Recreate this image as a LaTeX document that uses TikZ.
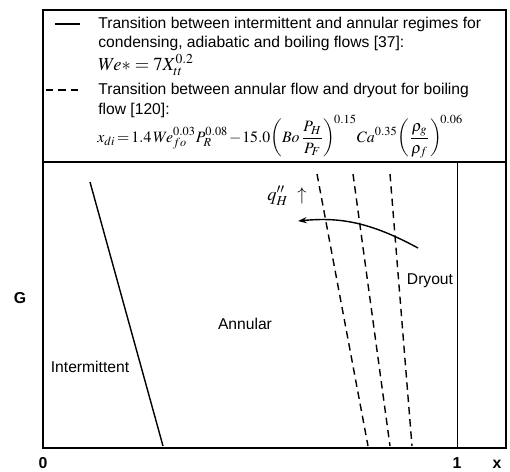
\documentclass[tikz,border=0pt]{standalone}
\usepackage{mathptmx}
\usepackage[no-math]{fontspec}
\setmainfont{Liberation Sans}
\usetikzlibrary{arrows.meta}
\begin{document}
\begin{tikzpicture}[x=0.02cm,y=-0.02cm,
    lbl/.style={font=\fontsize{8.9}{10}\selectfont, inner sep=0pt},
    axlbl/.style={font=\fontsize{9}{10}\selectfont\bfseries, inner sep=0pt},
    frame/.style={line width=1.1pt},
    regime/.style={line width=0.8pt},
    dryline/.style={line width=0.8pt, dash pattern=on 4.2pt off 2.8pt}]
    \useasboundingbox (0,0) rectangle (510,471);
    % frame and legend box
    \draw[frame] (43,10) rectangle (506,448);
    \draw[frame] (43,162) -- (506,162);
    \draw[regime] (55,24) -- (80,24);
    \draw[dryline] (46,90) -- (80,90);
    \node[lbl, anchor=west] (leg1a) at (98,24) {Transition between intermittent and annular regimes for};
    \node[lbl, anchor=west] (leg1b) at (98,43) {condensing, adiabatic and boiling flows [37]:};
    \node[anchor=west, inner sep=0pt, font=\fontsize{10.5}{12}\selectfont] (eq1) at (98,65) {$We{*} = 7X_{tt}^{0.2}$};
    \node[lbl, anchor=west] (leg2a) at (98,90) {Transition between annular flow and dryout for boiling};
    \node[lbl, anchor=west] (leg2b) at (98,110) {flow [120]:};
    \node[anchor=west, inner sep=0pt, font=\fontsize{9}{11}\selectfont] (eq2) at (97,137)
        {\medmuskip=1mu\thickmuskip=2mu$\displaystyle x_{di} = 1.4\,We_{fo}^{0.03}P_R^{0.08} - 15.0\!\left(Bo\,\frac{P_H}{P_F}\right)^{\!0.15}\! Ca^{0.35}\!\left(\frac{\rho_g}{\rho_f}\right)^{\!0.06}$};
    % regime map
    \draw[line width=0.45pt] (457,162) -- (457,448);
    \draw[regime] (90,182) -- (163,446);
    \foreach \xa/\xb in {317/368, 353/390, 390/412}
        \draw[dryline] (\xa,174) -- (\xb,446);
    \draw[regime, -{Stealth[length=5pt, width=3.5pt]}] (418,248) .. controls (370,222) and (340,217) .. (298,221);
    \node[inner sep=0pt, font=\fontsize{10.5}{12}\selectfont] (flux) at (287,196) {$q''_{H}\ \uparrow$};
    \node[lbl] (dry) at (430,281) {Dryout};
    \node[lbl] (ann) at (245,324) {Annular};
    \node[lbl] (int) at (90,367) {Intermittent};
    % axes labels
    \node[axlbl] (g) at (20,298) {G};
    \node[axlbl] (zero) at (43,463) {0};
    \node[axlbl] (one) at (457,463) {1};
    \node[axlbl] (xl) at (497,464) {x};
\end{tikzpicture}
\end{document}
